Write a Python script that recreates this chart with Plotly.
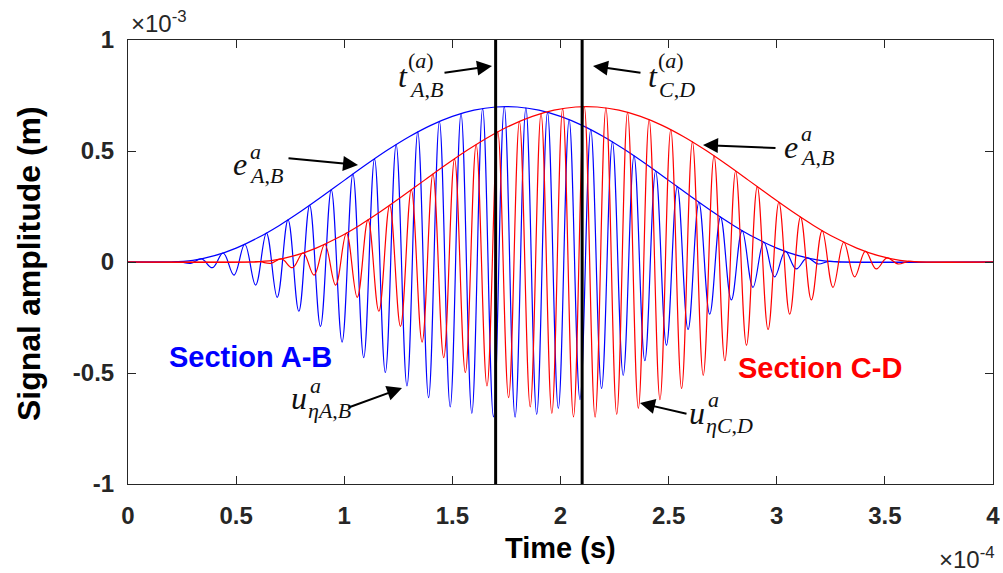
import plotly.graph_objects as go

# Units: time in 1e-4 s, amplitude in 1e-3 m (exponents shown as axis multipliers)

# ---- Section A-B (blue): extremes of the tone burst ----
blue_ext_t = [0.24, 0.29, 0.34, 0.39, 0.44, 0.49, 0.54, 0.59, 0.64, 0.69,
              0.74, 0.79, 0.84, 0.89, 0.94, 0.99, 1.04, 1.09, 1.14, 1.19,
              1.24, 1.29, 1.34, 1.39, 1.44, 1.49, 1.54, 1.59, 1.64, 1.69,
              1.74, 1.79, 1.84, 1.89, 1.94, 1.99, 2.04, 2.09, 2.14, 2.19,
              2.24, 2.29, 2.34, 2.39, 2.44, 2.49, 2.54, 2.59, 2.64, 2.69,
              2.74, 2.79, 2.84, 2.89, 2.94, 2.99, 3.04, 3.09, 3.14, 3.19,
              3.24, 3.29]
blue_ext_v = [0.0011, -0.0058, 0.0140, -0.0256, 0.0406, -0.0587, 0.0799, -0.1038, 0.1302, -0.1589,
              0.1895, -0.2218, 0.2554, -0.2900, 0.3252, -0.3606, 0.3959, -0.4306, 0.4645, -0.4977,
              0.5291, -0.5586, 0.5860, -0.6109, 0.6332, -0.6526, 0.6688, -0.6818, 0.6913, -0.6974,
              0.6999, -0.6989, 0.6942, -0.6860, 0.6744, -0.6594, 0.6413, -0.6201, 0.5962, -0.5698,
              0.5412, -0.5105, 0.4782, -0.4446, 0.4100, -0.3748, 0.3394, -0.3041, 0.2691, -0.2351,
              0.2022, -0.1709, 0.1414, -0.1140, 0.0891, -0.0668, 0.0475, -0.0312, 0.0182, -0.0087,
              0.0026, -0.0001]
blue_start, blue_end = 0.20, 3.30

blue_env_t = [0.2, 0.3, 0.4, 0.5, 0.6, 0.7, 0.8, 0.9, 1.0, 1.1, 1.2, 1.3, 1.4, 1.5, 1.6, 1.7,
              1.8, 1.9, 2.0, 2.1, 2.2, 2.3, 2.4, 2.5, 2.6, 2.7, 2.8, 2.9, 3.0, 3.1, 3.2, 3.3]
blue_env_v = [0, 0.0072, 0.0284, 0.0627, 0.1089, 0.1649, 0.2284, 0.2970, 0.3677, 0.4377,
              0.5041, 0.5642, 0.6156, 0.6560, 0.6840, 0.6982, 0.6982, 0.6840, 0.6560, 0.6156,
              0.5642, 0.5041, 0.4377, 0.3677, 0.2970, 0.2284, 0.1649, 0.1089, 0.0627, 0.0284,
              0.0072, 0]

# ---- Section C-D (red) ----
red_ext_t = [0.61, 0.66, 0.71, 0.76, 0.81, 0.86, 0.91, 0.96, 1.01, 1.06,
             1.11, 1.16, 1.21, 1.26, 1.31, 1.36, 1.41, 1.46, 1.51, 1.56,
             1.61, 1.66, 1.71, 1.76, 1.81, 1.86, 1.91, 1.96, 2.01, 2.06,
             2.11, 2.16, 2.21, 2.26, 2.31, 2.36, 2.41, 2.46, 2.51, 2.56,
             2.61, 2.66, 2.71, 2.76, 2.81, 2.86, 2.91, 2.96, 3.01, 3.06,
             3.11, 3.16, 3.21, 3.26, 3.31, 3.36, 3.41, 3.46, 3.51, 3.56,
             3.61, 3.66]
red_ext_v = [0.0011, -0.0058, 0.0140, -0.0256, 0.0406, -0.0587, 0.0799, -0.1038, 0.1302, -0.1589,
             0.1895, -0.2218, 0.2554, -0.2900, 0.3252, -0.3606, 0.3959, -0.4306, 0.4645, -0.4977,
             0.5291, -0.5586, 0.5860, -0.6109, 0.6332, -0.6526, 0.6688, -0.6818, 0.6913, -0.6974,
             0.6999, -0.6989, 0.6942, -0.6860, 0.6744, -0.6594, 0.6413, -0.6201, 0.5962, -0.5698,
             0.5412, -0.5105, 0.4782, -0.4446, 0.4100, -0.3748, 0.3394, -0.3041, 0.2691, -0.2351,
             0.2022, -0.1709, 0.1414, -0.1140, 0.0891, -0.0668, 0.0475, -0.0312, 0.0182, -0.0087,
             0.0026, -0.0001]
red_start, red_end = 0.57, 3.67

red_env_t = [0.57, 0.67, 0.77, 0.87, 0.97, 1.07, 1.17, 1.27, 1.37, 1.47, 1.57, 1.67, 1.77, 1.87, 1.97, 2.07,
             2.17, 2.27, 2.37, 2.47, 2.57, 2.67, 2.77, 2.87, 2.97, 3.07, 3.17, 3.27, 3.37, 3.47, 3.57, 3.67]
red_env_v = [0, 0.0072, 0.0284, 0.0627, 0.1089, 0.1649, 0.2284, 0.2970, 0.3677, 0.4377,
             0.5041, 0.5642, 0.6156, 0.6560, 0.6840, 0.6982, 0.6982, 0.6840, 0.6560, 0.6156,
             0.5642, 0.5041, 0.4377, 0.3677, 0.2970, 0.2284, 0.1649, 0.1089, 0.0627, 0.0284,
             0.0072, 0]

# arrival times (vertical markers)
t_AB = 1.7
t_CD = 2.1

x_min, x_max = 0, 4
y_min, y_max = -1, 1
x_ticks = [0, 0.5, 1, 1.5, 2, 2.5, 3, 3.5, 4]
x_ticktext = ['0', '0.5', '1', '1.5', '2', '2.5', '3', '3.5', '4']
y_ticks = [-1, -0.5, 0, 0.5, 1]
y_ticktext = ['-1', '-0.5', '0', '0.5', '1']

BLUE = '#0000FF'
RED = '#FF0000'
AX = '#262626'
SANS = 'Liberation Sans'
SERIF = 'Liberation Serif'

W, H = 1003, 573
L, R, T, B = 128, 10, 40, 89
PW, PH = W - L - R, H - T - B


def to_paper(xp, yp):
    return (xp - L) / PW, (H - B - yp) / PH


fig = go.Figure()

sig_line = dict(width=1.2, shape='spline', smoothing=1.1)
fig.add_trace(go.Scatter(x=[x_min, blue_start] + blue_ext_t + [blue_end, x_max],
                         y=[0, 0] + blue_ext_v + [0, 0], mode='lines',
                         line=dict(color=BLUE, **sig_line), showlegend=False))
fig.add_trace(go.Scatter(x=[x_min] + blue_env_t + [x_max], y=[0] + blue_env_v + [0], mode='lines',
                         line=dict(color=BLUE, width=1.2, shape='spline', smoothing=1.0), showlegend=False))
fig.add_trace(go.Scatter(x=[x_min, red_start] + red_ext_t + [red_end, x_max],
                         y=[0, 0] + red_ext_v + [0, 0], mode='lines',
                         line=dict(color=RED, **sig_line), showlegend=False))
fig.add_trace(go.Scatter(x=[x_min] + red_env_t + [x_max], y=[0] + red_env_v + [0], mode='lines',
                         line=dict(color=RED, width=1.2, shape='spline', smoothing=1.0), showlegend=False))
for tv in (t_AB, t_CD):
    fig.add_trace(go.Scatter(x=[tv, tv], y=[y_min, y_max], mode='lines',
                             line=dict(color='black', width=3), showlegend=False))


def txt(s, xp, yp, size, color='#111111', family=SERIF, xanchor='center', yanchor='middle', **kw):
    x, y = to_paper(xp, yp)
    fig.add_annotation(text=s, x=x, y=y, xref='paper', yref='paper', showarrow=False,
                       font=dict(size=size, color=color, family=family),
                       xanchor=xanchor, yanchor=yanchor, borderpad=0, **kw)


def arrow(hx, hy, ax, ay):
    x, y = to_paper(hx, hy)
    fig.add_annotation(text='', x=x, y=y, xref='paper', yref='paper', ax=ax, ay=ay,
                       showarrow=True, arrowhead=2, arrowsize=1.5, arrowwidth=2,
                       arrowcolor='black', standoff=0)


def mathlabel(base, bx, by, sup, sx, sy, sub, ux, uy, bsize=32, ssize=22):
    txt('<i>%s</i>' % base, bx, by, bsize)
    txt(sup, sx, sy, ssize, xanchor='left')
    txt(sub, ux, uy, ssize, xanchor='left')


# e^a_{A,B} (left)
mathlabel('e', 240, 164, '<i>a</i>', 249, 151, '<i>A</i>,<i>B</i>', 248, 175)
arrow(358, 165, -71, -7)
# t^(a)_{A,B}
mathlabel('t', 403, 76, '(<i>a</i>)', 407, 61, '<i>A</i>,<i>B</i>', 408, 89)
arrow(492, 66, -49, 7)
# t^(a)_{C,D}
mathlabel('t', 653, 76, '(<i>a</i>)', 657, 61, '<i>C</i>,<i>D</i>', 658, 89)
arrow(593, 66, 49, 7)
# e^a_{A,B} (right)
mathlabel('e', 791, 147, '<i>a</i>', 800, 134, '<i>A</i>,<i>B</i>', 799, 158)
arrow(703, 145, 74, 3)
# u^a_{eta A,B}
mathlabel('u', 299, 398, '<i>a</i>', 309, 385, '<i>ηA</i>,<i>B</i>', 307, 410)
arrow(402, 388, -55, 20)
# u^a_{eta C,D}
mathlabel('u', 697, 413, '<i>a</i>', 707, 399, '<i>ηC</i>,<i>D</i>', 705, 425)
arrow(640, 403, 48, 11)

# Section labels
txt('<b>Section A-B</b>', 250, 357, 29, color=BLUE, family=SANS)
txt('<b>Section C-D</b>', 820, 368, 29, color=RED, family=SANS)

# exponent multipliers
txt('×10<sup>-3</sup>', 130, 22, 24, color=AX, family=SANS, xanchor='left')
txt('×10<sup>-4</sup>', 996, 558, 24, color=AX, family=SANS, xanchor='right')

# axis titles
txt('<b>Time (s)</b>', 560, 548, 29, color='black', family=SANS)
txt('<b>Signal amplitude (m)</b>', 29, 264, 32, color='black', family=SANS, textangle=-90)

axis_common = dict(showline=True, linecolor=AX, linewidth=1, mirror='ticks', ticks='inside',
                   ticklen=8, tickwidth=1, tickcolor=AX, showgrid=False, zeroline=False,
                   automargin=False,
                   tickfont=dict(family=SANS, size=24, color=AX, weight='bold'))
fig.update_xaxes(range=[x_min, x_max], tickvals=x_ticks, ticktext=x_ticktext,
                 ticklabelstandoff=10, **axis_common)
fig.update_yaxes(range=[y_min, y_max], tickvals=y_ticks, ticktext=y_ticktext,
                 ticklabelstandoff=8, **axis_common)

fig.update_layout(width=W, height=H, margin=dict(l=L, r=R, t=T, b=B, autoexpand=False),
                  plot_bgcolor='white', paper_bgcolor='white', showlegend=False)

fig.write_html('out.html', config={'displayModeBar': False},
               post_script="document.body.style.margin='0';document.body.style.overflow='hidden';")
